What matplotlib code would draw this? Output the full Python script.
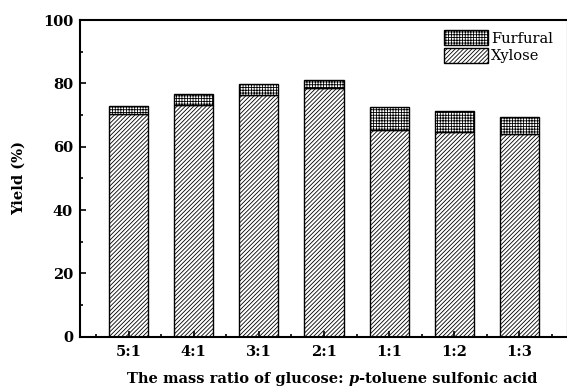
import matplotlib.pyplot as plt
import numpy as np
from matplotlib.offsetbox import TextArea, HPacker, AnchoredOffsetbox

ratios = ["5:1", "4:1", "3:1", "2:1", "1:1", "1:2", "1:3"]
xylose = [70.3, 73.3, 76.3, 78.4, 65.3, 64.5, 63.9]
total = [72.7, 76.5, 79.8, 81.0, 72.4, 71.4, 69.3]
furfural = [t - x for t, x in zip(total, xylose)]

plt.rcParams['font.family'] = 'DejaVu Serif'
plt.rcParams['hatch.linewidth'] = 0.6

fig = plt.figure(figsize=(5.67, 3.89), dpi=100)
ax = fig.add_axes([80 / 567, 1 - 336.7 / 389, 488 / 567, 316.7 / 389])

x = np.arange(1, len(ratios) + 1)
ax.bar(x, xylose, width=0.6, color='white', edgecolor='black',
       hatch='////////', linewidth=1.0, label='Xylose')
ax.bar(x, furfural, width=0.6, bottom=xylose, color='white', edgecolor='black',
       hatch='++++++', linewidth=1.0, label='Furfural')

ax.set_xlim(0.25, 7.75)
ax.set_ylim(0, 100)
ax.set_xticks(x)
ax.set_xticklabels(ratios, fontweight='bold', fontsize=10.5)
ax.set_xticks(list(x[:-1] + 0.5) + [0.5, 7.5], minor=True)
ax.set_yticks(range(0, 101, 20))
ax.set_yticks(range(10, 100, 20), minor=True)
for lab in ax.get_yticklabels():
    lab.set_fontweight('bold')
    lab.set_fontsize(10.5)
ax.tick_params(direction='in', which='both', width=1.2)
ax.tick_params(which='major', length=4)
ax.tick_params(which='minor', length=2.5)
ax.tick_params(axis='x', pad=6)
ax.tick_params(axis='y', pad=5)

for s in ax.spines.values():
    s.set_linewidth(1.5)

ax.set_ylabel('Yield (%)', fontweight='bold', fontsize=10.5, labelpad=12)

# x label with an italic "p"
parts = [
    TextArea('The mass ratio of glucose: ',
             textprops=dict(fontweight='bold', fontsize=10.5)),
    TextArea('p', textprops=dict(fontweight='bold', fontstyle='italic', fontsize=10.5)),
    TextArea('-toluene sulfonic acid',
             textprops=dict(fontweight='bold', fontsize=10.5)),
]
xl = HPacker(children=parts, align='baseline', pad=0, sep=0)
anch = AnchoredOffsetbox(loc='center', child=xl, frameon=False, pad=0,
                         bbox_to_anchor=(332 / 567, 1 - 379 / 389),
                         bbox_transform=fig.transFigure, borderpad=0)
fig.add_artist(anch)

handles, labels = ax.get_legend_handles_labels()
ax.legend(handles[::-1], labels[::-1], loc='upper right', frameon=False,
          fontsize=10.5, handlelength=3.0, handleheight=1.2,
          labelspacing=0.15, handletextpad=0.2, borderaxespad=0.3,
          bbox_to_anchor=(0.99, 1.0))

fig.savefig('out.png', dpi=100)
